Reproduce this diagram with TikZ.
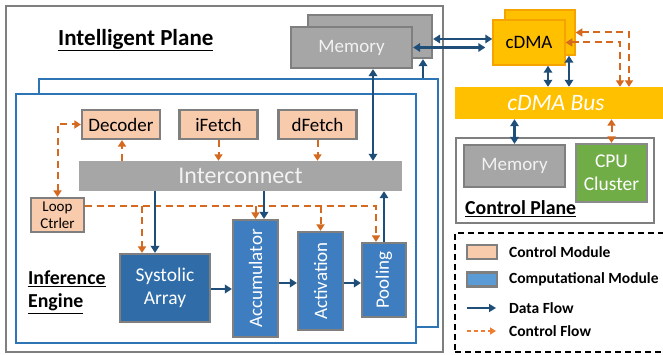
\documentclass[tikz,border=0pt]{standalone}
\usepackage{fontspec}
\setmainfont{Carlito}
\usetikzlibrary{arrows.meta,calc}
\definecolor{dblue}{HTML}{1F4E79}
\definecolor{eblue}{HTML}{2E75B6}
\definecolor{sysblue}{HTML}{2F6CA8}
\definecolor{cblue}{HTML}{3D7DC0}
\definecolor{lblue}{HTML}{5B9BD5}
\definecolor{orng}{HTML}{D4691F}
\definecolor{lorng}{HTML}{ED7D31}
\definecolor{peach}{HTML}{F8CBAD}
\definecolor{mgray}{HTML}{A6A6A6}
\definecolor{bgray}{HTML}{7F7F7F}
\definecolor{ygold}{HTML}{FFC000}
\definecolor{ygoldb}{HTML}{F5A300}
\definecolor{green}{HTML}{70AD47}
\definecolor{greenb}{HTML}{8A8A8A}
\definecolor{wtext}{HTML}{F2F2F2}
\tikzset{
  box/.style={draw, inner sep=0pt, line width=2.2pt},
  ctrlmod/.style={box, draw=bgray, fill=peach, text=black},
  compmod/.style={box, draw=bgray, fill=cblue, text=white},
  graymod/.style={box, draw=bgray, fill=mgray, text=wtext},
  data/.style={draw=dblue, line width=2.6pt, -{Triangle[width=8.5pt,length=7pt]}},
  datab/.style={draw=dblue, line width=2.6pt, {Triangle[width=8.5pt,length=7pt]}-{Triangle[width=8.5pt,length=7pt]}},
  ctrl/.style={draw=orng, line width=2pt, dash pattern=on 7pt off 4.5pt, -{Triangle[width=8pt,length=6.5pt]}},
  ctrlb/.style={draw=orng, line width=2pt, dash pattern=on 7pt off 4.5pt, {Triangle[width=8pt,length=6.5pt]}-{Triangle[width=8pt,length=6.5pt]}},
  title/.style={font=\fontsize{23}{26}\selectfont\bfseries, inner sep=0pt},
  lbl/.style={font=\fontsize{19}{21}\selectfont},
  leg/.style={font=\fontsize{15.5}{17}\selectfont\bfseries, anchor=west, inner sep=0pt},
}
\begin{document}
\begin{tikzpicture}[x=1pt,y=-1pt]
\useasboundingbox (0,0) rectangle (663,355);
\fill[white] (0,0) rectangle (663,355);

% Intelligent plane
\node[draw=bgray, line width=2.2pt, minimum width=437pt, minimum height=346pt, inner sep=0pt] (ipl) at (224.5,179) {};
\node[title, anchor=west] (iptitle) at (58,40) {\underline{Intelligent Plane}};

% memories (back & front)
\node[graymod, minimum width=124pt, minimum height=43pt] (memback) at (370,36.5) {};
\node[graymod, minimum width=121pt, minimum height=41pt, lbl] (memfront) at (351.5,47.5) {Memory};

% inference engine boxes
\node[draw=eblue, fill=white, line width=1.6pt, minimum width=399pt, minimum height=248pt, inner sep=0pt] (engback) at (238.5,203) {};
\node[draw=eblue, fill=white, line width=1.6pt, minimum width=400pt, minimum height=249pt, inner sep=0pt] (engfront) at (216,218.5) {};

% modules
\node[ctrlmod, minimum width=78pt, minimum height=29pt, lbl] (dec) at (121,124.5) {Decoder};
\node[ctrlmod, minimum width=78pt, minimum height=29pt, lbl] (ifetch) at (218.5,124.5) {iFetch};
\node[ctrlmod, minimum width=78pt, minimum height=29pt, lbl] (dfetch) at (317.5,124.5) {dFetch};
\node[fill=mgray, inner sep=0pt, minimum width=323pt, minimum height=30pt, text=wtext, font=\fontsize{24}{26}\selectfont] (intc) at (240.5,176) {Interconnect};
\node[ctrlmod, minimum width=53pt, minimum height=34pt, align=center, font=\fontsize{15}{16.5}\selectfont] (loop) at (57.5,215) {Loop\\Ctrler};
\node[compmod, fill=sysblue, minimum width=90pt, minimum height=68pt, align=center, font=\fontsize{19.5}{23}\selectfont] (sys) at (165,288) {Systolic\\Array};
\node[compmod, minimum width=45pt, minimum height=117pt] (acc) at (255.5,278.5) {};
\node[lbl, text=white, rotate=90] at (acc.center) {Accumulator};
\node[compmod, minimum width=45pt, minimum height=98pt] (act) at (320.5,281) {};
\node[lbl, text=white, rotate=90] at (act.center) {Activation};
\node[compmod, minimum width=44pt, minimum height=74pt] (pool) at (384,280) {};
\node[lbl, text=white, rotate=90] at (pool.center) {Pooling};
\node[title, font=\fontsize{19.8}{23}\selectfont\bfseries, anchor=north west, align=left] (ietitle) at (28,271) {\underline{Inference}\\[0pt]\underline{Engine}};

% control flow in engine
\draw[ctrlb] (loop.north) |- (dec.west);
\draw[ctrl] ([xshift=1pt]dec.south |- intc.north) -- ([xshift=1pt]dec.south);
\draw[ctrl] (ifetch.south) -- (ifetch.south |- intc.north);
\draw[ctrl] (dfetch.south) -- (dfetch.south |- intc.north);
\coordinate (lc) at ([yshift=9pt]loop.east);
\draw[ctrl] (lc) -| ([xshift=-8pt]pool.north);
\draw[ctrl] ([xshift=-23pt]sys.north |- lc) -- ([xshift=-23pt]sys.north);
\draw[ctrl] (acc.north |- lc) -- (acc.north);
\draw[ctrl] (act.north |- lc) -- (act.north);

% data flow in engine
\draw[data] ([xshift=-10pt]sys.north |- intc.south) -- ([xshift=-10pt]sys.north);
\draw[data] ([xshift=8.5pt]acc.north |- intc.south) -- ([xshift=8.5pt]acc.north);
\draw[data] (pool.north) -- (pool.north |- intc.south);
\draw[data] ([yshift=-1pt]sys.east) -- ([yshift=-1pt]sys.east -| acc.west);
\draw[data] ([yshift=-2pt]act.west -| acc.east) -- ([yshift=-2pt]act.west);
\draw[data] ([yshift=-3pt]pool.west -| act.east) -- ([yshift=-3pt]pool.west);
\draw[datab] ([xshift=21.5pt]memfront.south |- intc.north) -- ([xshift=21.5pt]memfront.south);
\draw[data] ([xshift=53pt]memback.south |- engback.north) -- ([xshift=53pt]memback.south);

% cDMA
\node[box, draw=ygoldb, fill=ygold, line width=1.5pt, minimum width=70pt, minimum height=45pt] (cdmaback) at (540,32.5) {};
\node[box, draw=ygoldb, fill=ygold, line width=1.5pt, minimum width=72pt, minimum height=45pt, lbl, text=black] (cdmafront) at (529,42.5) {cDMA};
\node[fill=ygold, inner sep=0pt, minimum width=210pt, minimum height=32pt] (bus) at (560,103) {};
\node[text=white, font=\fontsize{23.5}{26}\selectfont\itshape] at (556,103) {cDMA Bus};

\draw[datab] ([yshift=-2.5pt]memback.east) -- ([yshift=-2.5pt]memback.east -| cdmafront.west);
\draw[datab, shorten >=7pt] (memfront.east) -- (memfront.east -| cdmafront.west);
\draw[datab] ([xshift=19pt]cdmafront.south) -- ([xshift=19pt]cdmafront.south |- bus.north);
\draw[datab] ([xshift=29pt]cdmaback.south) -- ([xshift=29pt]cdmaback.south |- bus.north);
\draw[ctrlb] (cdmafront.east) -| ([xshift=60pt]bus.north);
\draw[ctrlb] (cdmaback.east) -| ([xshift=69pt]bus.north);

% control plane
\node[draw=bgray, line width=1.6pt, minimum width=198pt, minimum height=85pt, inner sep=0pt] (cplane) at (555,180.5) {};
\node[graymod, minimum width=101pt, minimum height=42pt, lbl] (cmem) at (514.5,166) {Memory};
\node[box, draw=greenb, fill=green, text=white, minimum width=71pt, minimum height=58pt, align=center, font=\fontsize{19.5}{23}\selectfont] (cpu) at (611.5,173) {CPU\\Cluster};
\node[title, font=\fontsize{19.8}{23}\selectfont\bfseries, anchor=west] (cptitle) at (465,209) {\underline{Control Plane}};
\draw[datab] (cmem.north |- bus.south) -- (cmem.north);
\draw[ctrlb] (cpu.north |- bus.south) -- (cpu.north);

% legend
\node[draw=black, line width=1.2pt, dash pattern=on 6pt off 4pt, minimum width=215pt, minimum height=119pt, inner sep=0pt] (legbox) at (562.5,292.5) {};
\node[box, draw=bgray, fill=peach, minimum width=30pt, minimum height=14pt] (lg1) at (482,252) {};
\node[leg] at (509,252) {Control Module};
\node[box, draw=bgray, fill=lblue, minimum width=30pt, minimum height=14pt] (lg2) at (482,279.5) {};
\node[leg] at (509,279.5) {Computational Module};
\coordinate (lg3a) at (467,308);
\coordinate (lg3b) at (496,308);
\draw[draw=dblue, line width=2.6pt, -{Triangle[width=8pt,length=7pt]}] (lg3a) -- (lg3b);
\node[leg] at (509,308) {Data Flow};
\coordinate (lg4a) at (467,331);
\coordinate (lg4b) at (496,331);
\draw[draw=lorng, line width=1.6pt, dash pattern=on 4pt off 3pt, -{Triangle[width=7pt,length=6pt]}] (lg4a) -- (lg4b);
\node[leg] at (509,331) {Control Flow};
\end{tikzpicture}
\end{document}
